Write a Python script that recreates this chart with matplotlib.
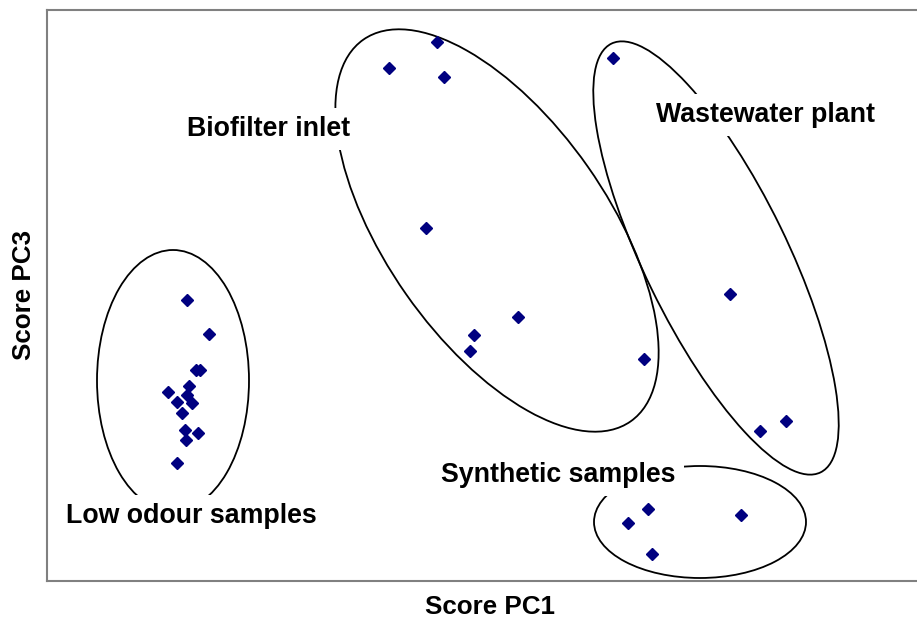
import matplotlib
matplotlib.use("Agg")
import matplotlib.pyplot as plt
from matplotlib.patches import Ellipse

plt.rcParams['font.family'] = ['Liberation Sans', 'DejaVu Sans']

# Scores (PC1, PC3) per sample group
low_pc1 = [-2.95, -2.73, -2.86, -2.82, -2.93, -3.14, -2.95, -3.05, -2.90, -3.00, -2.97, -2.84, -2.96, -3.05]
low_pc3 = [-0.04, -0.38, -0.74, -0.74, -0.90, -0.96, -0.99, -1.06, -1.07, -1.17, -1.34, -1.37, -1.44, -1.67]

bio_pc1 = [-0.45, -0.93, -0.38, -0.56, 0.36, -0.08, -0.12, 1.62]
bio_pc3 = [2.54, 2.28, 2.18, 0.68, -0.21, -0.39, -0.55, -0.63]

wwt_pc1 = [1.31, 2.48, 3.04, 2.78]
wwt_pc3 = [2.38, 0.02, -1.25, -1.35]

syn_pc1 = [1.46, 1.66, 2.59, 1.70]
syn_pc3 = [-2.27, -2.13, -2.19, -2.58]

# group outlines: centre, width, height, angle
groups = [
    ((-3.09, -0.85), 1.52, 2.61, 0),
    ((0.15, 0.65), 4.66, 2.22, -55),
    ((2.34, 0.375), 4.77, 1.43, -64),
    ((2.18, -2.265), 2.12, 1.12, 0),
]

labels = ["Low odour samples", "Biofilter inlet", "Wastewater plant", "Synthetic samples"]
label_pos = [(-2.905, -2.275), (-2.135, 1.595), (2.835, 1.735), (0.76, -1.865)]

fig = plt.figure(figsize=(9.17, 6.19), dpi=100)
ax = fig.add_axes([47 / 917, 38 / 619, 870 / 917, 571 / 619])

for pc1, pc3 in [(low_pc1, low_pc3), (bio_pc1, bio_pc3), (wwt_pc1, wwt_pc3), (syn_pc1, syn_pc3)]:
    ax.plot(pc1, pc3, linestyle='none', marker='D', markersize=6.5,
            color='#000080', zorder=3)

for (c, w, h, a) in groups:
    ax.add_patch(Ellipse(c, w, h, angle=a, fill=False, edgecolor='black',
                         linewidth=1.3, zorder=2))

for txt, (x, y) in zip(labels, label_pos):
    ax.text(x, y, txt, ha='center', va='baseline', fontsize=19.3,
            fontweight='bold', zorder=4,
            bbox=dict(facecolor='white', edgecolor='none', pad=6))

ax.set_xlim(-4.35, 4.35)
ax.set_ylim(-2.855, 2.855)
ax.set_xticks([])
ax.set_yticks([])
ax.spines['right'].set_visible(False)
for s in ['left', 'top', 'bottom']:
    ax.spines[s].set_color('#808080')
    ax.spines[s].set_linewidth(1.5)

ax.set_xlabel("Score PC1", fontsize=18.7, fontweight='bold', labelpad=10)
ax.set_ylabel("Score PC3", fontsize=18.7, fontweight='bold', labelpad=8)
ax.xaxis.set_label_coords(0.509, -0.025, transform=ax.transAxes)
ax.xaxis.label.set_va('top')

fig.savefig("out.png", dpi=100)
